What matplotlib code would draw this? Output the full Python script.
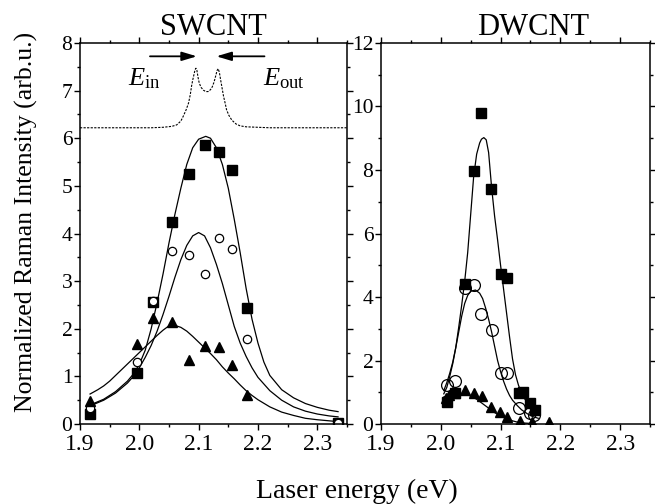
import matplotlib
matplotlib.use("Agg")
import matplotlib.pyplot as plt
from matplotlib.ticker import MultipleLocator, FormatStrFormatter

plt.rcParams["font.family"] = ["Liberation Serif", "DejaVu Serif"]
plt.rcParams["mathtext.fontset"] = "custom"
plt.rcParams["mathtext.rm"] = "Liberation Serif"
plt.rcParams["mathtext.it"] = "Liberation Serif:italic"

# ---- SWCNT data ----
sw_x = [1.917, 1.996, 2.023, 2.055, 2.084, 2.111, 2.135, 2.156, 2.181, 2.335]
sw_sq = [0.21, 1.07, 2.57, 4.24, 5.25, 5.86, 5.71, 5.34, 2.44, 0.02]
sw_ci = [0.33, 1.31, 2.59, 3.63, 3.54, 3.14, 3.90, 3.67, 1.79, 0.03]
sw_tri_x = [1.917, 1.996, 2.023, 2.055, 2.084, 2.111, 2.135, 2.156, 2.181]
sw_tri = [0.49, 1.69, 2.22, 2.15, 1.34, 1.64, 1.61, 1.24, 0.61]

# fit curves
sw_fit_sq_x = [1.917, 1.94, 1.96, 1.98, 1.99, 2.00, 2.01, 2.02, 2.03, 2.04, 2.05,
               2.06, 2.07, 2.08, 2.09, 2.10, 2.112, 2.12, 2.13, 2.14, 2.15, 2.16,
               2.17, 2.18, 2.19, 2.20, 2.21, 2.22, 2.24, 2.26, 2.28, 2.30, 2.32, 2.335]
sw_fit_sq_y = [0.40, 0.52, 0.68, 0.90, 1.05, 1.25, 1.55, 2.00, 2.55, 3.15, 3.80,
               4.40, 4.95, 5.45, 5.80, 5.98, 6.04, 6.00, 5.80, 5.45, 4.95, 4.30,
               3.60, 2.85, 2.20, 1.70, 1.30, 1.02, 0.72, 0.55, 0.43, 0.35, 0.29, 0.26]

sw_fit_ci_x = [1.917, 1.94, 1.96, 1.98, 1.99, 2.00, 2.01, 2.02, 2.03, 2.04, 2.05,
               2.06, 2.07, 2.08, 2.09, 2.10, 2.11, 2.12, 2.13, 2.14, 2.15, 2.16,
               2.17, 2.18, 2.19, 2.20, 2.22, 2.24, 2.26, 2.28, 2.30, 2.32, 2.335]
sw_fit_ci_y = [0.38, 0.50, 0.65, 0.86, 1.00, 1.18, 1.40, 1.65, 1.95, 2.30, 2.68,
               3.08, 3.45, 3.75, 3.95, 4.02, 3.95, 3.70, 3.35, 2.95, 2.50, 2.05,
               1.70, 1.42, 1.18, 0.98, 0.70, 0.50, 0.36, 0.27, 0.21, 0.17, 0.15]

sw_fit_tri_x = [1.917, 1.93, 1.94, 1.95, 1.96, 1.97, 1.98, 1.99, 2.00, 2.01, 2.02,
                2.03, 2.04, 2.052, 2.06, 2.07, 2.08, 2.09, 2.10, 2.11, 2.12, 2.13,
                2.14, 2.15, 2.16, 2.17, 2.18, 2.19, 2.20, 2.22, 2.24, 2.26, 2.28, 2.30, 2.335]
sw_fit_tri_y = [0.63, 0.72, 0.80, 0.90, 1.02, 1.14, 1.26, 1.38, 1.50, 1.62, 1.74,
                1.86, 1.97, 2.08, 2.07, 2.03, 1.95, 1.84, 1.72, 1.60, 1.48, 1.35,
                1.20, 1.07, 0.95, 0.82, 0.70, 0.60, 0.51, 0.36, 0.25, 0.18, 0.12, 0.09, 0.05]

# double resonance profile (dotted)
res_x = [1.90, 2.02, 2.04, 2.055, 2.063, 2.07, 2.074, 2.079, 2.083, 2.086, 2.088,
         2.090, 2.092, 2.094, 2.0955, 2.097, 2.099, 2.101, 2.104, 2.108, 2.112,
         2.116, 2.120, 2.123, 2.126, 2.129, 2.131, 2.133, 2.135, 2.137, 2.140,
         2.142, 2.145, 2.147, 2.151, 2.156, 2.163, 2.17, 2.18, 2.20, 2.22, 2.35]
res_y = [6.22, 6.22, 6.23, 6.25, 6.28, 6.36, 6.46, 6.60, 6.74, 6.92, 7.09,
         7.22, 7.33, 7.44, 7.47, 7.43, 7.28, 7.16, 7.07, 7.01, 6.98,
         6.98, 7.02, 7.08, 7.18, 7.32, 7.42, 7.46, 7.38, 7.23, 7.02,
         6.88, 6.72, 6.60, 6.48, 6.38, 6.30, 6.26, 6.24, 6.23, 6.22, 6.22]

# ---- DWCNT data ----
dw_sq_x = [2.010, 2.023, 2.040, 2.055, 2.068, 2.084, 2.100, 2.111, 2.131, 2.138, 2.150, 2.157]
dw_sq = [0.68, 0.97, 4.40, 7.96, 9.80, 7.40, 4.71, 4.59, 0.99, 1.00, 0.65, 0.44]
dw_ci_x = [2.010, 2.023, 2.040, 2.056, 2.068, 2.085, 2.100, 2.111, 2.131, 2.150, 2.156]
dw_ci = [1.23, 1.36, 4.29, 4.38, 3.45, 2.96, 1.60, 1.60, 0.49, 0.34, 0.28]
dw_tri_x = [2.009, 2.014, 2.024, 2.040, 2.055, 2.069, 2.084, 2.099, 2.111, 2.132, 2.152, 2.181]
dw_tri = [0.81, 0.90, 0.97, 1.07, 0.97, 0.89, 0.55, 0.39, 0.23, 0.10, 0.07, 0.05]

dw_fit_sq_x = [2.005, 2.010, 2.015, 2.020, 2.025, 2.030, 2.035, 2.040, 2.045, 2.050,
               2.055, 2.060, 2.065, 2.068, 2.072, 2.076, 2.080, 2.085, 2.090, 2.095,
               2.100, 2.105, 2.110, 2.115, 2.120, 2.125, 2.130, 2.135, 2.140, 2.148,
               2.155, 2.160]
dw_fit_sq_y = [0.95, 1.15, 1.50, 1.90, 2.40, 3.05, 3.75, 4.50, 5.40, 6.60,
               7.80, 8.50, 8.85, 8.97, 9.02, 8.95, 8.55, 7.45, 6.55, 5.80,
               5.00, 4.25, 3.50, 2.75, 2.05, 1.55, 1.22, 0.98, 0.80, 0.60,
               0.42, 0.32]

dw_fit_ci_x = [2.005, 2.010, 2.015, 2.020, 2.025, 2.030, 2.035, 2.040, 2.045, 2.050,
               2.058, 2.065, 2.070, 2.075, 2.080, 2.085, 2.090, 2.095, 2.100, 2.105,
               2.110, 2.115, 2.120, 2.128, 2.135, 2.145, 2.153, 2.163]
dw_fit_ci_y = [1.05, 1.30, 1.60, 1.95, 2.40, 2.90, 3.40, 3.80, 4.05, 4.18,
               4.22, 4.12, 3.95, 3.65, 3.30, 2.90, 2.45, 2.00, 1.65, 1.35,
               1.10, 0.90, 0.75, 0.58, 0.45, 0.32, 0.24, 0.18]

dw_fit_tri_x = [2.005, 2.02, 2.03, 2.04, 2.05, 2.06, 2.07, 2.08, 2.09, 2.10,
                2.11, 2.12, 2.13, 2.14, 2.15]
dw_fit_tri_y = [0.85, 0.95, 0.97, 0.95, 0.88, 0.78, 0.64, 0.50, 0.36, 0.25,
                0.16, 0.10, 0.05, 0.03, 0.02]

fig = plt.figure(figsize=(6.55, 5.04), dpi=100)
ax1 = fig.add_axes([0.1221, 0.1587, 0.4076, 0.7560])
ax2 = fig.add_axes([0.5817, 0.1587, 0.4107, 0.7560])

# SWCNT panel
ax1.plot(res_x, res_y, color="k", lw=0.8, ls=(0, (2, 1.2)))
ax1.plot(sw_fit_sq_x, sw_fit_sq_y, color="k", lw=0.9)
ax1.plot(sw_fit_ci_x, sw_fit_ci_y, color="k", lw=0.9)
ax1.plot(sw_fit_tri_x, sw_fit_tri_y, color="k", lw=0.9)
ax1.plot(sw_x, sw_sq, "s", color="k", ms=7, ls="none")
ax1.plot(sw_x, sw_ci, "o", mfc="white", mec="k", mew=0.9, ms=6, ls="none")
ax1.plot(sw_tri_x, sw_tri, "^", color="k", ms=7.5, ls="none")

arrow = dict(arrowstyle="-|>,head_length=0.6,head_width=0.18", color="k", lw=1.3,
             shrinkA=0, shrinkB=0, mutation_scale=15)
ax1.annotate("", xy=(2.097, 7.72), xytext=(2.018, 7.72), arrowprops=arrow)
ax1.annotate("", xy=(2.130, 7.72), xytext=(2.211, 7.72), arrowprops=arrow)
ax1.text(1.981, 7.12, r"$E_{\mathrm{in}}$", fontsize=19, va="baseline")
ax1.text(2.209, 7.12, r"$E_{\mathrm{out}}$", fontsize=19, va="baseline")

ax1.set_xlim(1.9, 2.35)
ax1.set_ylim(0, 8)
ax1.yaxis.set_major_locator(MultipleLocator(1))
ax1.yaxis.set_minor_locator(MultipleLocator(0.5))

# DWCNT panel
ax2.plot(dw_fit_sq_x, dw_fit_sq_y, color="k", lw=0.9)
ax2.plot(dw_fit_ci_x, dw_fit_ci_y, color="k", lw=0.9)
ax2.plot(dw_fit_tri_x, dw_fit_tri_y, color="k", lw=0.9)
ax2.plot(dw_sq_x, dw_sq, "s", color="k", ms=7, ls="none")
ax2.plot(dw_ci_x, dw_ci, "o", mfc="none", mec="k", mew=0.9, ms=8.5, ls="none")
ax2.plot(dw_tri_x, dw_tri, "^", color="k", ms=7.5, ls="none")

ax2.set_xlim(1.9, 2.35)
ax2.set_ylim(0, 12)
ax2.yaxis.set_major_locator(MultipleLocator(2))
ax2.yaxis.set_minor_locator(MultipleLocator(1))

for ax in (ax1, ax2):
    ax.xaxis.set_major_locator(MultipleLocator(0.1))
    ax.xaxis.set_minor_locator(MultipleLocator(0.05))
    ax.xaxis.set_major_formatter(FormatStrFormatter("%.1f"))
    ax.yaxis.set_major_formatter(FormatStrFormatter("%g"))
    ax.tick_params(which="both", direction="out", top=True, right=True, width=1.0)
    ax.tick_params(which="major", length=4.5)
    ax.tick_params(which="minor", length=2.5)
    ax.tick_params(axis="x", labelsize=17, pad=3)
    ax.tick_params(axis="y", labelsize=15.5, pad=1)
    for s in ax.spines.values():
        s.set_linewidth(1.1)

fig.text(213 / 655, 1 - 35 / 504, "SWCNT", fontsize=22, ha="center", va="baseline")
fig.text(533 / 655, 1 - 35 / 504, "DWCNT", fontsize=22, ha="center", va="baseline")
fig.text(0.040, 0.56, "Normalized Raman Intensity (arb.u.)", fontsize=18.5,
         rotation=90, ha="center", va="center")
fig.text(357 / 655, 0.012, "Laser energy (eV)", fontsize=20, ha="center", va="baseline")

fig.savefig("out.png", dpi=100)
